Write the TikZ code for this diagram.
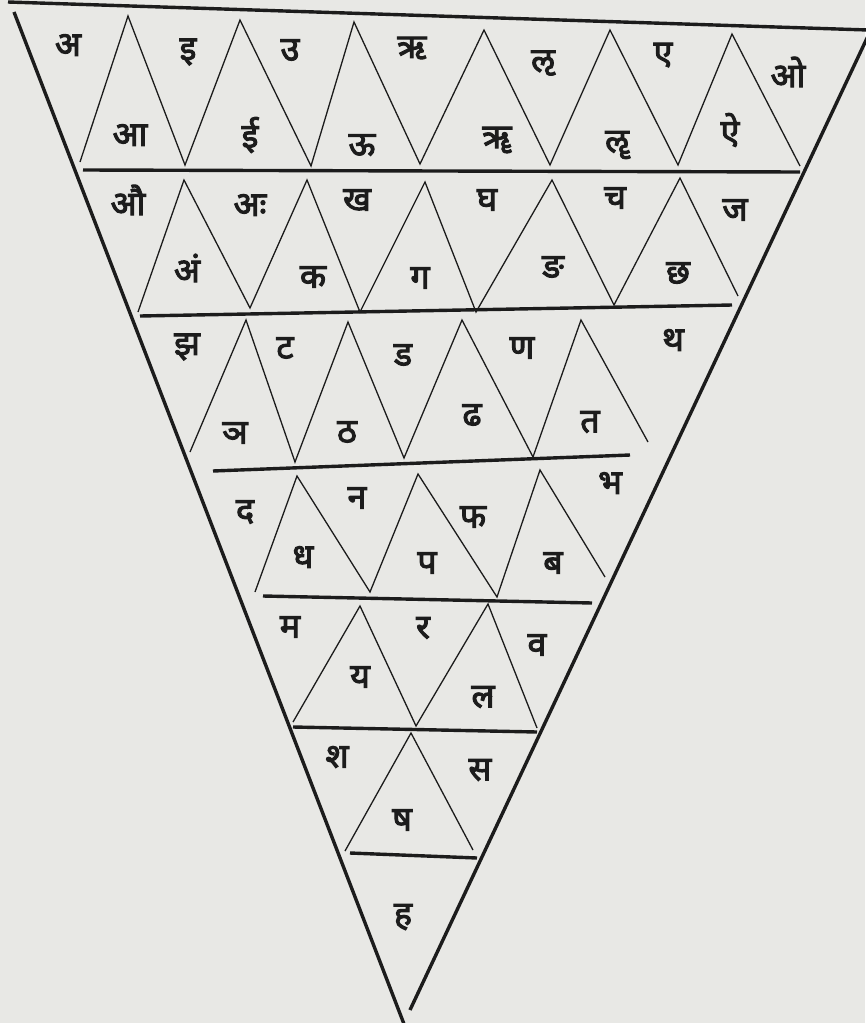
\documentclass[tikz,border=0pt]{standalone}
\usepackage{fontspec}
\newfontfamily\deva[Script=Devanagari,FakeBold=3]{Noto Sans}
\definecolor{paper}{RGB}{232,232,229}
\definecolor{ink}{RGB}{28,28,28}
\tikzset{
  rim/.style={ink,line width=3.4pt},
  zig/.style={ink,line width=1.3pt},
  akshara/.style={ink,inner sep=0pt,font=\deva\fontsize{34}{34}\selectfont},
}

\begin{document}
\begin{tikzpicture}[x=1pt,y=-1pt]
\fill[paper] (0,0) rectangle (865,1023);
\useasboundingbox (0,0) rectangle (865,1023);
\draw[rim] (8,2) -- (868,30);
\draw[rim] (14,12) -- (404,1024);
\draw[rim] (868,36) -- (410,1010);
\foreach \xa/\ya/\xb/\yb in {83/170/800/172,140/316/732/305,213/471/630/455,
  263/596/592/603,293/727/537/732,350/853/477/858} {
  \draw[rim] (\xa,\ya) -- (\xb,\yb);
}
\draw[zig] (80,162) -- (128,16) -- (185,165) -- (240,20) -- (311,166) -- (354,22)
  -- (420,164) -- (484,30) -- (550,165) -- (610,30) -- (678,165) -- (732,34) -- (800,166);
\draw[zig] (138,312) -- (184,180) -- (250,308) -- (307,180) -- (360,312) -- (425,182)
  -- (476,312) -- (552,180) -- (614,305) -- (680,178) -- (738,296);
\draw[zig] (190,452) -- (246,320) -- (295,462) -- (348,322) -- (404,458) -- (462,320)
  -- (533,457) -- (581,320) -- (648,442);
\draw[zig] (255,592) -- (297,476) -- (370,592) -- (418,474) -- (497,597) -- (540,470) -- (605,577);
\draw[zig] (293,722) -- (360,606) -- (416,726) -- (488,604) -- (537,728);
\draw[zig] (345,851) -- (411,733) -- (473,850);
\foreach \n/\x/\y/\t in {a/68/45/अ,aa/130/135/आ,i/188/52/इ,ii/250/135/ई,u/290/50/उ,
  uu/362/145/ऊ,r/412/48/ऋ,rr/497/140/ॠ,l/543/63/ऌ,ll/617/145/ॡ,e/663/55/ए,
  ai/730/130/ऐ,o/788/72/ओ,au/128/200/औ,am/187/268/अं,ah/250/205/अः,
  ka/313/277/क,kha/357/200/ख,ga/420/278/ग,gha/487/200/घ,nga/553/267/ङ,
  ca/615/198/च,cha/678/273/छ,ja/735/210/ज,jha/187/347/झ,nya/235/433/ञ,
  tta/285/348/ट,ttha/347/432/ठ,dda/403/355/ड,ddha/472/415/ढ,nna/522/348/ण,
  ta/590/422/त,tha/673/340/थ,da/245/512/द,dha/303/557/ध,na/357/498/न,
  pa/427/563/प,pha/473/517/फ,ba/553/563/ब,bha/610/483/भ,ma/290/627/म,
  ya/360/677/य,ra/423/628/र,la/483/697/ल,va/537/645/व,sha/337/757/श,
  ssa/402/820/ष,sa/480/770/स,ha/403/917/ह} {
  \node[akshara] (\n) at (\x,\y) {\t};
}
\end{tikzpicture}
\end{document}
